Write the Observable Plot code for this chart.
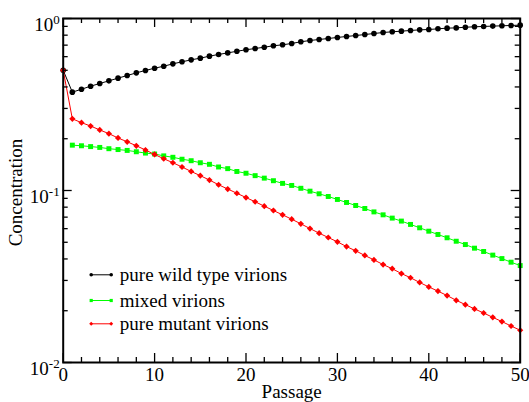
<!DOCTYPE html>
<html>
<head>
<meta charset="utf-8">
<script src="https://cdn.jsdelivr.net/npm/d3@7"></script>
<script src="https://cdn.jsdelivr.net/npm/@observablehq/plot@0.6"></script>
<style>
  html, body { margin: 0; padding: 0; background: white; }
  #chart { width: 529px; height: 402px; }
</style>
</head>
<body>
<div id="chart"></div>
<script>
// ---- data ----
const passages = [0,1,2,3,4,5,6,7,8,9,10,11,12,13,14,15,16,17,18,19,20,21,22,23,24,25,26,27,28,29,30,31,32,33,34,35,36,37,38,39,40,41,42,43,44,45,46,47,48,49,50];
const wildType = [0.5,0.373,0.388,0.404,0.419,0.434,0.450,0.466,0.483,0.499,0.514,0.528,0.545,0.560,0.575,0.588,0.604,0.618,0.631,0.645,0.658,0.669,0.681,0.694,0.703,0.716,0.732,0.745,0.755,0.765,0.776,0.786,0.796,0.807,0.818,0.829,0.837,0.844,0.852,0.859,0.863,0.871,0.879,0.882,0.890,0.895,0.899,0.903,0.907,0.911,0.915];
const mixed = [null,0.1835,0.182,0.180,0.178,0.175,0.173,0.171,0.168,0.165,0.163,0.159,0.156,0.152,0.149,0.145,0.142,0.137,0.134,0.129,0.126,0.122,0.118,0.114,0.110,0.107,0.103,0.0991,0.0957,0.0923,0.0887,0.0852,0.0818,0.0786,0.0751,0.0722,0.0691,0.0664,0.0635,0.0607,0.0580,0.0555,0.0531,0.0507,0.0485,0.0462,0.0442,0.0421,0.0402,0.0383,0.0366];
const mutant = [0.5,0.261,0.248,0.237,0.225,0.214,0.202,0.192,0.182,0.172,0.162,0.153,0.145,0.137,0.129,0.122,0.115,0.108,0.102,0.0964,0.0910,0.0860,0.0811,0.0765,0.0722,0.0681,0.0640,0.0601,0.0565,0.0533,0.0503,0.0472,0.0446,0.0419,0.0395,0.0371,0.0351,0.0329,0.0311,0.0292,0.0275,0.0260,0.0245,0.0230,0.0217,0.0205,0.0194,0.0183,0.0173,0.0163,0.0154];

const seriesNames = ["pure wild type virions", "mixed virions", "pure mutant virions"];
const seriesColors = ["#000000", "#00ff00", "#ff0000"];
const seriesSymbols = ["circle", "square", "diamond2"];

const xMajor = [0,10,20,30,40,50];
const xTickLabels = ["0","10","20","30","40","50"];
const xMinor = [2,4,6,8,12,14,16,18,22,24,26,28,32,34,36,38,42,44,46,48];
const yMajor = [1, 0.1, 0.01];
const yTickLabels = ["10^0", "10^-1", "10^-2"];
const yMinor = [0.02,0.03,0.04,0.05,0.06,0.07,0.08,0.09,0.2,0.3,0.4,0.5,0.6,0.7,0.8,0.9];

const xTitle = "Passage";
const yTitle = "Concentration";

// ---- layout ----
const W = 529, H = 402;
const mL = 62.7, mR = 9.3, mT = 18, mB = 40;
const fw = W - mL - mR, fh = H - mT - mB;
const majorLen = 9, minorLen = 5;
const font = "'Liberation Serif', 'Times New Roman', serif";

const seriesValues = [wildType, mixed, mutant];
const tables = seriesValues.map((vals, s) =>
  passages.map((p, i) => ({passage: p, value: vals[i], series: seriesNames[s]}))
);

const dataMarks = [];
tables.forEach((t, s) => {
  dataMarks.push(Plot.line(t, {x: "passage", y: "value", stroke: seriesColors[s], strokeWidth: 1}));
  dataMarks.push(Plot.dot(t, {x: "passage", y: "value", fill: seriesColors[s], symbol: () => seriesSymbols[s], r: 2.8}));
});

// legend
const legendDy = [256.3, 282, 305.3];
const segSymbol = { draw(ctx) { ctx.moveTo(-10, 0); ctx.lineTo(10, 0); } };
const legendMarks = [];
seriesNames.forEach((name, s) => {
  legendMarks.push(Plot.dot([name], {frameAnchor: "top-left", dx: 38, dy: legendDy[s], symbol: segSymbol, stroke: seriesColors[s], strokeWidth: 1, fill: "none", r: 3}));
  legendMarks.push(Plot.dot([name], {frameAnchor: "top-left", dx: 28, dy: legendDy[s], symbol: seriesSymbols[s], fill: seriesColors[s], r: 1.8}));
  legendMarks.push(Plot.dot([name], {frameAnchor: "top-left", dx: 48, dy: legendDy[s], symbol: seriesSymbols[s], fill: seriesColors[s], r: 1.8}));
  legendMarks.push(Plot.text([name], {frameAnchor: "top-left", dx: 56.6, dy: legendDy[s], text: d => d, textAnchor: "start", lineAnchor: "middle", fontSize: 19, fill: "black"}));
});

const tickStyle = {stroke: "black", strokeWidth: 1.3};

const chart = Plot.plot({
  width: W, height: H,
  marginLeft: mL, marginRight: mR, marginTop: mT, marginBottom: mB,
  style: {fontFamily: font, background: "white", overflow: "visible"},
  x: {domain: [0, 50], axis: null},
  y: {type: "log", domain: [0.01, 1], axis: null},
  marks: [
    ...dataMarks,
    // ticks, bottom and top
    Plot.ruleX(xMajor, {x: d => d, insetTop: fh - majorLen, ...tickStyle}),
    Plot.ruleX(xMinor, {x: d => d, insetTop: fh - minorLen, ...tickStyle}),
    Plot.ruleX(xMajor, {x: d => d, insetBottom: fh - majorLen, ...tickStyle}),
    Plot.ruleX(xMinor, {x: d => d, insetBottom: fh - minorLen, ...tickStyle}),
    // ticks, left and right
    Plot.ruleY(yMajor, {y: d => d, insetRight: fw - majorLen, ...tickStyle}),
    Plot.ruleY(yMinor, {y: d => d, insetRight: fw - minorLen, ...tickStyle}),
    Plot.ruleY(yMajor, {y: d => d, insetLeft: fw - majorLen, ...tickStyle}),
    Plot.ruleY(yMinor, {y: d => d, insetLeft: fw - minorLen, ...tickStyle}),
    Plot.frame({stroke: "black", strokeWidth: 2}),
    // tick labels
    Plot.text(xMajor, {x: d => d, frameAnchor: "bottom", text: (d, i) => xTickLabels[i], textAnchor: "middle", lineAnchor: "top", dy: 5, fontSize: 19, fill: "black"}),
    Plot.text(yMajor, {y: d => d, frameAnchor: "left", text: (d, i) => yTickLabels[i], textAnchor: "end", dx: -3.5, dy: 6, fontSize: 19, fill: "black"}),
    // axis titles
    Plot.text([xTitle], {frameAnchor: "bottom", text: d => d, textAnchor: "middle", lineAnchor: "top", dy: 22, fontSize: 19, fill: "black"}),
    Plot.text([yTitle], {frameAnchor: "left", text: d => d, rotate: -90, textAnchor: "middle", lineAnchor: "middle", dx: -47, dy: 2, fontSize: 19, fill: "black"}),
    ...legendMarks
  ]
});

// superscript exponents on the log-axis labels
chart.querySelectorAll("text").forEach(t => {
  if (!t.textContent.includes("^")) return;
  const parts = t.textContent.split("^");
  t.textContent = parts[0];
  const ts = document.createElementNS("http://www.w3.org/2000/svg", "tspan");
  ts.setAttribute("dy", "-7");
  ts.setAttribute("font-size", "13");
  ts.textContent = parts[1];
  t.appendChild(ts);
});

document.getElementById("chart").appendChild(chart);
</script>
</body>
</html>
